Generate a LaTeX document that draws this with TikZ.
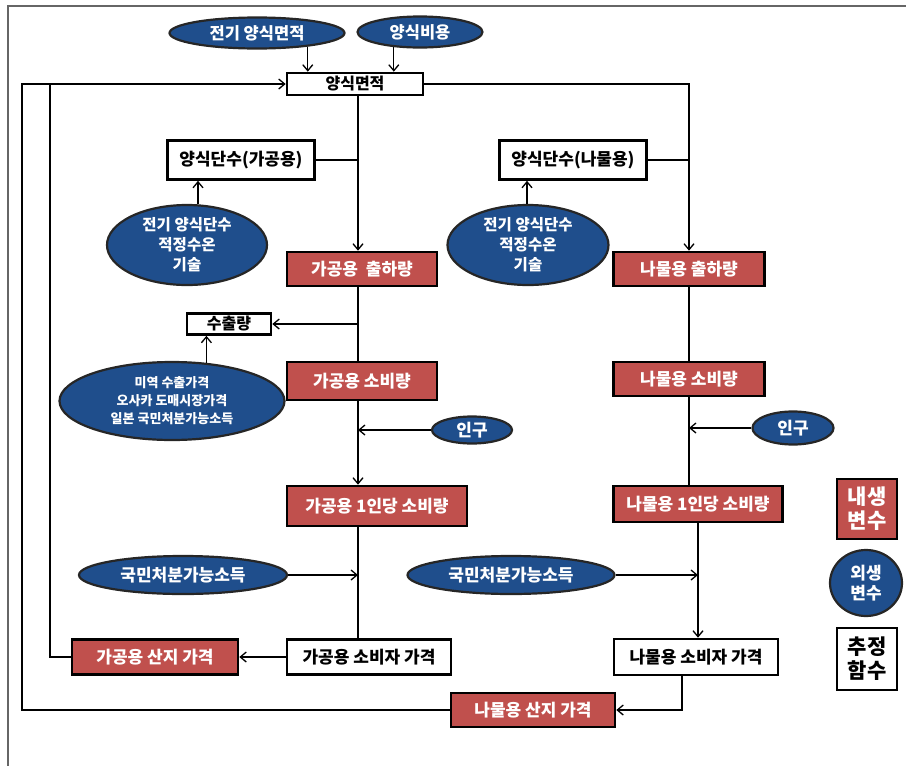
\documentclass[tikz,border=0pt]{standalone}
\usepackage{fontspec}
\setmainfont{Noto Sans CJK KR}
\usetikzlibrary{arrows.meta,shapes.geometric,calc}
\definecolor{redfill}{RGB}{192,80,77}
\definecolor{bluefill}{RGB}{31,78,140}
\tikzset{
  base/.style={inner sep=0pt, font=\bfseries\fontsize{17}{19}\selectfont, align=center},
  endo/.style={base, rectangle, fill=redfill, draw=black, line width=2.6pt, text=white},
  func/.style={base, rectangle, fill=white, draw=black, line width=2.6pt, text=black},
  exo/.style={base, ellipse, fill=bluefill, draw=black!85, line width=2.2pt, text=white},
  conn/.style={line width=1.3pt, draw=black},
  arr/.style={conn, -{Straight Barb[length=6pt,width=10pt,line width=1.3pt]}},
}
\begin{document}
\begin{tikzpicture}[x=1pt,y=-1pt]
\useasboundingbox (0,0) rectangle (906,766);
\draw[black!60, line width=1.2pt] (8,766) -- (8,6) -- (906,6);
\coordinate (colL) at (358,0);
\coordinate (colR) at (689,0);
\coordinate (colR2) at (698,0);
\coordinate (colFB) at (50,0);
\coordinate (colOut) at (22,0);
% top
\node[exo, minimum width=175pt, minimum height=31pt, font=\bfseries\fontsize{16.5}{18}\selectfont] (e1) at (257,33) {전기 양식면적};
\node[exo, minimum width=125pt, minimum height=31pt, font=\bfseries\fontsize{16.5}{18}\selectfont] (e2) at (420,32) {양식비용};
\node[func, minimum width=136pt, minimum height=22pt, font=\bfseries\fontsize{16}{18}\selectfont] (area) at (355,84) {양식면적};
% left column
\node[func, minimum width=147pt, minimum height=39pt] (dan1) at (241,160) {양식단수(가공용)};
\node[exo, minimum width=160pt, minimum height=80pt, font=\bfseries\fontsize{15.5}{20}\selectfont] (pe1) at (187,245) {전기 양식단수\\적정수온\\기술};
\node[endo, minimum width=150pt, minimum height=34pt] (ship1) at (362,269) {가공용\ \ 출하량};
\node[func, minimum width=84pt, minimum height=21pt, font=\bfseries\fontsize{16}{18}\selectfont] (exp) at (229,324) {수출량};
\node[exo, minimum width=225pt, minimum height=78pt, font=\bfseries\fontsize{13}{18}\selectfont] (pe2) at (172,401) {미역 수출가격\\오사카 도매시장가격\\일본 국민처분가능소득};
\node[endo, minimum width=150pt, minimum height=38pt] (cons1) at (362,381) {가공용 소비량};
\node[exo, minimum width=80pt, minimum height=27pt] (pop1) at (472,430) {인구};
\node[endo, minimum width=180pt, minimum height=40pt] (pc1) at (377,506) {가공용 1인당 소비량};
\node[exo, minimum width=208pt, minimum height=38pt] (inc1) at (183,575) {국민처분가능소득};
\node[func, minimum width=164pt, minimum height=35pt] (cp1) at (369,657) {가공용 소비자 가격};
\node[endo, minimum width=166pt, minimum height=35pt] (fp1) at (155,657) {가공용 산지 가격};
% right column
\node[func, minimum width=147pt, minimum height=39pt] (dan2) at (573,160) {양식단수(나물용)};
\node[exo, minimum width=161pt, minimum height=80pt, font=\bfseries\fontsize{15.5}{20}\selectfont] (pe3) at (528,245) {전기 양식단수\\적정수온\\기술};
\node[endo, minimum width=151pt, minimum height=34pt] (ship2) at (689,269) {나물용 출하량};
\node[endo, minimum width=151pt, minimum height=34pt] (cons2) at (689,379) {나물용 소비량};
\node[exo, minimum width=81pt, minimum height=33pt] (pop2) at (793,428) {인구};
\node[endo, minimum width=169pt, minimum height=36pt] (pc2) at (698,504) {나물용 1인당 소비량};
\node[exo, minimum width=207pt, minimum height=38pt] (inc2) at (511,575) {국민처분가능소득};
\node[func, minimum width=164pt, minimum height=36pt] (cp2) at (696,657) {나물용 소비자 가격};
\node[endo, minimum width=164pt, minimum height=34pt] (fp2) at (533,710) {나물용 산지 가격};
% legend
\node[endo, minimum width=60pt, minimum height=60pt, font=\bfseries\fontsize{21}{24}\selectfont] (lg1) at (867,509) {내생\\변수};
\node[exo, minimum width=72pt, minimum height=66pt, font=\bfseries\fontsize{17}{20}\selectfont] (lg2) at (866,583) {외생\\변수};
\node[func, minimum width=60pt, minimum height=62pt, font=\bfseries\fontsize{21}{24}\selectfont] (lg3) at (867,659) {추정\\함수};
% connectors top
\draw[arr] (e1.-15) -- (e1.-15 |- area.north);
\draw[arr] (e2.-150) -- (e2.-150 |- area.north);
\draw[arr] (area.south -| colL) -- (ship1.north -| colL);
\draw[arr] (area.east) -| (ship2.north);
\draw[conn] (dan1.east) -- (dan1.east -| colL);
\draw[conn] (dan2.east) -- (dan2.east -| colR);
\draw[arr] ([xshift=11pt]pe1.north) -- ([xshift=11pt]pe1.north |- dan1.south);
\draw[arr] ([xshift=-1pt]pe3.north) -- ([xshift=-1pt]pe3.north |- dan2.south);
% left trunk
\draw[conn] (ship1.south -| colL) -- (cons1.north -| colL);
\draw[arr] (exp.east -| colL) -- (exp.east);
\draw[arr] (pe2.48) -- (pe2.48 |- exp.south);
\draw[arr] (cons1.south -| colL) -- (pc1.north -| colL);
\draw[arr] (pop1.west) -- (pop1.west -| colL);
\draw[conn] (pc1.south -| colL) -- (cp1.north -| colL);
\draw[arr] (inc1.east) -- (inc1.east -| colL);
\draw[arr] (cp1.west) -- (fp1.east);
\draw[conn] (fp1.west) -| (colFB |- area.west);
% right trunk
\draw[conn] (ship2.south) -- (cons2.north);
\draw[conn] (cons2.south) -- (pc2.north -| colR);
\draw[arr] (pop2.west) -- (pop2.west -| colR);
\draw[arr] (pc2.south -| colR2) -- (cp2.north -| colR2);
\draw[arr] (inc2.east) -- (inc2.east -| colR2);
\draw[arr] ([xshift=-14pt]cp2.south) |- (fp2.east);
% outer feedback
\draw[arr] (fp2.west) -| (colOut |- area.west) -- (area.west);
\end{tikzpicture}
\end{document}
